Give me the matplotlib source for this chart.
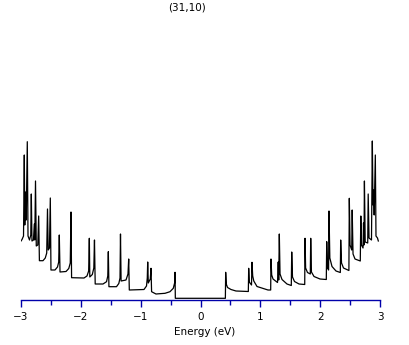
import matplotlib
matplotlib.use('Agg')
import matplotlib.pyplot as plt

# Density of states of the (31,10) tube
# (energy in eV, DOS in arbitrary units)
title = '(31,10)'
xlabel = 'Energy (eV)'
major_ticks = [-3, -2, -1, 0, 1, 2, 3]
major_labels = ['\u22123', '\u22122', '\u22121', '0', '1', '2', '3']
minor_ticks = [-2.5, -1.5, -0.5, 0.5, 1.5, 2.5]

energy_neg = [-2.995, -2.978, -2.953, -2.940, -2.932, -2.920, -2.908, -2.890, -2.878, -2.853,
              -2.832, -2.823, -2.812, -2.787, -2.773, -2.765, -2.753, -2.740, -2.715, -2.700,
              -2.688, -2.628, -2.590, -2.566, -2.553, -2.541, -2.520, -2.506, -2.495, -2.428,
              -2.386, -2.366, -2.356, -2.344, -2.244, -2.198, -2.173, -2.161, -2.151, -1.944,
              -1.894, -1.866, -1.855, -1.847, -1.805, -1.780, -1.769, -1.757, -1.627, -1.568,
              -1.547, -1.538, -1.528, -1.402, -1.363, -1.343, -1.335, -1.325, -1.243, -1.210,
              -1.198, -1.188, -0.943, -0.901, -0.888, -0.881, -0.871, -0.838, -0.826, -0.816,
              -0.743, -0.592, -0.509, -0.454, -0.432, -0.425, -0.420]
dos_neg = [0.59, 0.605, 0.64, 1.45, 0.75, 1.08, 0.80, 1.583, 0.64, 0.60,
           0.65, 1.06, 0.59, 0.60, 0.76, 0.60, 1.19, 0.54, 0.55, 0.84,
           0.393, 0.393, 0.42, 0.47, 0.91, 0.50, 0.52, 1.02, 0.30, 0.30,
           0.33, 0.38, 0.65, 0.28, 0.285, 0.315, 0.37, 0.88, 0.223, 0.22,
           0.24, 0.29, 0.617, 0.23, 0.255, 0.32, 0.60, 0.16, 0.16, 0.183,
           0.24, 0.483, 0.133, 0.133, 0.165, 0.22, 0.66, 0.19, 0.20, 0.26,
           0.41, 0.10, 0.105, 0.14, 0.22, 0.38, 0.17, 0.21, 0.317, 0.083,
           0.06, 0.067, 0.083, 0.117, 0.17, 0.277, 0.017]

energy_pos = [0.415, 0.420, 0.430, 0.451, 0.509, 0.592, 0.798, 0.804, 0.814, 0.851,
              0.859, 0.871, 0.889, 0.943, 1.126, 1.171, 1.176, 1.188, 1.210, 1.285,
              1.297, 1.305, 1.315, 1.327, 1.360, 1.443, 1.515, 1.522, 1.535, 1.568,
              1.644, 1.739, 1.744, 1.754, 1.785, 1.832, 1.839, 1.851, 1.894, 1.994,
              2.099, 2.106, 2.119, 2.137, 2.144, 2.158, 2.194, 2.261, 2.333, 2.339,
              2.353, 2.386, 2.476, 2.483, 2.495, 2.523, 2.531, 2.545, 2.578, 2.666,
              2.675, 2.686, 2.712, 2.720, 2.728, 2.735, 2.748, 2.790, 2.798, 2.812,
              2.853, 2.867, 2.878, 2.887, 2.898, 2.917, 2.928, 2.953, 2.967]
dos_pos = [0.017, 0.277, 0.16, 0.125, 0.105, 0.09, 0.085, 0.317, 0.18, 0.15,
           0.377, 0.24, 0.19, 0.135, 0.10, 0.10, 0.41, 0.25, 0.21, 0.175,
           0.38, 0.20, 0.66, 0.26, 0.205, 0.16, 0.145, 0.48, 0.23, 0.185,
           0.16, 0.155, 0.617, 0.32, 0.275, 0.26, 0.617, 0.28, 0.235, 0.21,
           0.205, 0.583, 0.32, 0.30, 0.89, 0.42, 0.335, 0.29, 0.275, 0.60,
           0.37, 0.32, 0.295, 1.017, 0.55, 0.50, 0.90, 0.46, 0.41, 0.39,
           0.84, 0.55, 0.52, 0.77, 0.55, 1.19, 0.58, 0.57, 1.06, 0.62,
           0.60, 1.59, 0.95, 1.10, 0.85, 1.45, 0.64, 0.62, 0.59]

energy = energy_neg + energy_pos
dos = dos_neg + dos_pos

axis_blue = '#0000AA'

fig = plt.figure(figsize=(4.09, 3.45), dpi=100)
ax = fig.add_axes([20.7 / 409, 45 / 345, 359.6 / 409, 280 / 345])
ax.plot(energy, dos, color='black', lw=0.9)

ax.set_xlim(-3, 3)
ax.set_ylim(0, 2.8)
for side in ['top', 'right', 'left']:
    ax.spines[side].set_visible(False)
ax.spines['bottom'].set_color(axis_blue)
ax.spines['bottom'].set_linewidth(1.0)
ax.set_yticks([])
ax.set_xticks(major_ticks, labels=major_labels)
ax.set_xticks(minor_ticks, minor=True)
ax.tick_params(axis='x', which='major', direction='out', length=5, width=1.0,
               color=axis_blue, labelsize=7.5, pad=3.5)
ax.tick_params(axis='x', which='minor', direction='out', length=3.6, width=1.0,
               color=axis_blue)

fig.text(187 / 409, 1 - 7 / 345, title, ha='center', va='center', fontsize=7.5)
fig.text(205 / 409, 1 - 331.7 / 345, xlabel, ha='center', va='center', fontsize=7.5)

fig.savefig('out.png', dpi=100)
